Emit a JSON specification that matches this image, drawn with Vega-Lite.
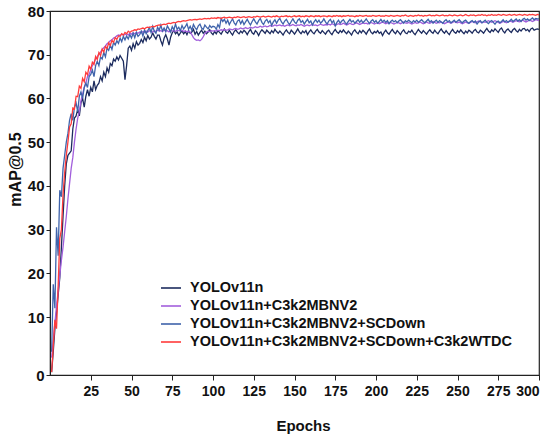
{
  "$schema": "https://vega.github.io/schema/vega-lite/v6.json",
  "width": 489,
  "height": 364,
  "autosize": "none",
  "padding": {"left": 50, "top": 11, "right": 11, "bottom": 63},
  "background": "white",
  "config": {
    "font": "Liberation Sans",
    "view": {"stroke": "#222222", "strokeWidth": 1.2}
  },
  "data": {
    "values": [
      {"epoch":1,"a":0.5,"b":3,"c":4,"d":0.5},
      {"epoch":2,"a":4,"b":6,"c":17.5,"d":5},
      {"epoch":3,"a":8,"b":9,"c":12,"d":9.5},
      {"epoch":4,"a":11,"b":12.5,"c":30.5,"d":8},
      {"epoch":5,"a":15,"b":16,"c":24,"d":17},
      {"epoch":6,"a":19,"b":19.5,"c":39,"d":28},
      {"epoch":7,"a":26,"b":23,"c":37.5,"d":30},
      {"epoch":8,"a":33,"b":26,"c":44,"d":38},
      {"epoch":9,"a":40,"b":29.5,"c":47,"d":43},
      {"epoch":10,"a":45,"b":33,"c":50,"d":47},
      {"epoch":11,"a":47,"b":37,"c":52,"d":50},
      {"epoch":12,"a":47.5,"b":40.5,"c":55,"d":53.5},
      {"epoch":13,"a":48,"b":44,"c":56.5,"d":54.2},
      {"epoch":14,"a":53,"b":46.5,"c":55,"d":57.8},
      {"epoch":15,"a":55.5,"b":50,"c":58,"d":57.6},
      {"epoch":16,"a":56,"b":53,"c":59,"d":60.5},
      {"epoch":17,"a":57.5,"b":55.5,"c":57,"d":60.4},
      {"epoch":18,"a":56,"b":57,"c":60.5,"d":62.8},
      {"epoch":19,"a":59,"b":59.5,"c":61.5,"d":62.3},
      {"epoch":20,"a":60,"b":61,"c":60,"d":64.6},
      {"epoch":21,"a":58,"b":62.5,"c":62.5,"d":63.8},
      {"epoch":22,"a":60.5,"b":63.5,"c":63.5,"d":66},
      {"epoch":23,"a":62,"b":65,"c":62.5,"d":65.4},
      {"epoch":24,"a":60.5,"b":65.5,"c":65,"d":67.4},
      {"epoch":25,"a":62.5,"b":66.5,"c":65.5,"d":66.7},
      {"epoch":26,"a":61.5,"b":67.5,"c":66.5,"d":68.3},
      {"epoch":27,"a":64,"b":68.2,"c":65,"d":67.8},
      {"epoch":28,"a":62,"b":69,"c":67.5,"d":69.6},
      {"epoch":29,"a":63,"b":69.5,"c":68.5,"d":68.9},
      {"epoch":30,"a":63.5,"b":70.2,"c":67.5,"d":70.5},
      {"epoch":31,"a":65,"b":70.6,"c":69.5,"d":69.8},
      {"epoch":32,"a":64,"b":71.2,"c":69,"d":71.3},
      {"epoch":33,"a":66,"b":71.6,"c":70.5,"d":70.6},
      {"epoch":34,"a":65,"b":72,"c":69.5,"d":71.9},
      {"epoch":35,"a":67,"b":72.5,"c":71.5,"d":71.4},
      {"epoch":36,"a":66,"b":72.8,"c":71,"d":72.7},
      {"epoch":37,"a":68,"b":73.2,"c":72.2,"d":72.1},
      {"epoch":38,"a":67.5,"b":73.4,"c":71.2,"d":73.3},
      {"epoch":39,"a":69,"b":73.8,"c":72.8,"d":72.8},
      {"epoch":40,"a":68.5,"b":74,"c":72.2,"d":73.9},
      {"epoch":41,"a":69.5,"b":74.3,"c":73.2,"d":73.5},
      {"epoch":42,"a":68.8,"b":74.5,"c":72.6,"d":74.3},
      {"epoch":43,"a":69.8,"b":74.4,"c":73.8,"d":74.2},
      {"epoch":44,"a":69.2,"b":74.7,"c":73,"d":74.8},
      {"epoch":45,"a":68.5,"b":74.5,"c":74.2,"d":74.5},
      {"epoch":46,"a":64.3,"b":74.6,"c":73.4,"d":75.1},
      {"epoch":47,"a":67.5,"b":74.8,"c":74.3,"d":74.8},
      {"epoch":48,"a":71.5,"b":74.5,"c":73.6,"d":75.4},
      {"epoch":49,"a":72,"b":74.9,"c":74.6,"d":75.1},
      {"epoch":50,"a":71,"b":74.7,"c":73.8,"d":75.4},
      {"epoch":51,"a":72.5,"b":75,"c":74.9,"d":75.5},
      {"epoch":52,"a":71.5,"b":74.8,"c":73.9,"d":75.7},
      {"epoch":53,"a":73,"b":75.1,"c":75.1,"d":75.6},
      {"epoch":54,"a":72.2,"b":74.9,"c":74.2,"d":75.9},
      {"epoch":55,"a":72.6,"b":75.2,"c":74.6,"d":75.8},
      {"epoch":56,"a":73.5,"b":75,"c":75.4,"d":76},
      {"epoch":57,"a":72.8,"b":75.3,"c":74.3,"d":76.1},
      {"epoch":58,"a":74,"b":75.1,"c":75.7,"d":75.9},
      {"epoch":59,"a":73.2,"b":75.4,"c":74.8,"d":76.2},
      {"epoch":60,"a":74.4,"b":75.2,"c":75.5,"d":76.3},
      {"epoch":61,"a":73.6,"b":75.5,"c":76.2,"d":76.2},
      {"epoch":62,"a":74,"b":75.3,"c":75.1,"d":76.4},
      {"epoch":63,"a":75,"b":75.2,"c":76.5,"d":76.5},
      {"epoch":64,"a":74.2,"b":75.5,"c":75.4,"d":76.4},
      {"epoch":65,"a":73.6,"b":75.3,"c":74.9,"d":76.6},
      {"epoch":66,"a":74.5,"b":75.6,"c":76.3,"d":76.7},
      {"epoch":67,"a":74.5,"b":75.4,"c":75.6,"d":76.8},
      {"epoch":68,"a":73.2,"b":75.5,"c":76.8,"d":76.7},
      {"epoch":69,"a":72.2,"b":75.3,"c":75.4,"d":76.9},
      {"epoch":70,"a":73.8,"b":75.6,"c":76.1,"d":77},
      {"epoch":71,"a":74.6,"b":75.4,"c":75.3,"d":76.9},
      {"epoch":72,"a":73.6,"b":75.5,"c":76.6,"d":77.1},
      {"epoch":73,"a":72.2,"b":75.2,"c":75.9,"d":77.2},
      {"epoch":74,"a":74,"b":75.6,"c":75.2,"d":77.1},
      {"epoch":75,"a":75,"b":75.4,"c":76.4,"d":77.3},
      {"epoch":76,"a":75.6,"b":75.5,"c":75.7,"d":77.4},
      {"epoch":77,"a":74.8,"b":75.3,"c":77,"d":77.3},
      {"epoch":78,"a":75.2,"b":75.6,"c":75.8,"d":77.5},
      {"epoch":79,"a":74.4,"b":75.5,"c":76.3,"d":77.6},
      {"epoch":80,"a":75,"b":75.4,"c":75.5,"d":77.5},
      {"epoch":81,"a":75.4,"b":75.6,"c":76.7,"d":77.7},
      {"epoch":82,"a":74.8,"b":75.3,"c":75.9,"d":77.8},
      {"epoch":83,"a":75.3,"b":75.5,"c":76.4,"d":77.7},
      {"epoch":84,"a":74.6,"b":75.2,"c":77.1,"d":77.8},
      {"epoch":85,"a":75.5,"b":75.4,"c":75.8,"d":77.9},
      {"epoch":86,"a":74.9,"b":75.2,"c":76.5,"d":78},
      {"epoch":87,"a":75.2,"b":74.6,"c":75.6,"d":77.9},
      {"epoch":88,"a":75.8,"b":73.9,"c":76.9,"d":78},
      {"epoch":89,"a":74.7,"b":73.5,"c":76.2,"d":78.1},
      {"epoch":90,"a":75.3,"b":73.3,"c":75.7,"d":78},
      {"epoch":91,"a":74.5,"b":73.4,"c":76.6,"d":78.1},
      {"epoch":92,"a":75.1,"b":73.2,"c":77,"d":78.2},
      {"epoch":93,"a":75.6,"b":73.5,"c":76.1,"d":78.1},
      {"epoch":94,"a":74.9,"b":74.1,"c":75.8,"d":78.2},
      {"epoch":95,"a":75.4,"b":74.8,"c":76.8,"d":78.3},
      {"epoch":96,"a":74.8,"b":75.2,"c":76.3,"d":78.2},
      {"epoch":97,"a":75.2,"b":75.4,"c":75.9,"d":78.3},
      {"epoch":98,"a":75.7,"b":75.3,"c":76.7,"d":78.2},
      {"epoch":99,"a":75,"b":75.5,"c":76.2,"d":78.4},
      {"epoch":100,"a":74.6,"b":75.4,"c":76.5,"d":78.3},
      {"epoch":101,"a":75.3,"b":75.5,"c":76.4,"d":78.4},
      {"epoch":102,"a":74.8,"b":75.4,"c":75.8,"d":78.3},
      {"epoch":103,"a":75.5,"b":75.6,"c":76.9,"d":78.5},
      {"epoch":104,"a":75.1,"b":75.5,"c":76.2,"d":78.4},
      {"epoch":105,"a":74.7,"b":75.7,"c":78.3,"d":78.3},
      {"epoch":106,"a":75.4,"b":75.6,"c":77.6,"d":78.5},
      {"epoch":107,"a":75.9,"b":75.8,"c":78.1,"d":78.6},
      {"epoch":108,"a":75.2,"b":75.6,"c":77.2,"d":78.4},
      {"epoch":109,"a":74.9,"b":75.7,"c":77.9,"d":78.5},
      {"epoch":110,"a":75.6,"b":75.9,"c":76.9,"d":78.6},
      {"epoch":111,"a":75,"b":75.8,"c":77.6,"d":78.5},
      {"epoch":112,"a":74.5,"b":75.7,"c":78.2,"d":78.4},
      {"epoch":113,"a":75.3,"b":75.9,"c":77.3,"d":78.6},
      {"epoch":114,"a":75.7,"b":76,"c":76.8,"d":78.5},
      {"epoch":115,"a":75.1,"b":75.8,"c":77.7,"d":78.7},
      {"epoch":116,"a":74.8,"b":75.9,"c":78,"d":78.6},
      {"epoch":117,"a":75.4,"b":76.1,"c":77.1,"d":78.5},
      {"epoch":118,"a":75,"b":75.9,"c":77.8,"d":78.6},
      {"epoch":119,"a":75.6,"b":76,"c":76.9,"d":78.7},
      {"epoch":120,"a":75.2,"b":76.2,"c":77.5,"d":78.5},
      {"epoch":121,"a":74.6,"b":76,"c":78.1,"d":78.6},
      {"epoch":122,"a":75.3,"b":76.1,"c":77.4,"d":78.7},
      {"epoch":123,"a":75.8,"b":76.3,"c":76.8,"d":78.6},
      {"epoch":124,"a":75,"b":76.1,"c":77.6,"d":78.5},
      {"epoch":125,"a":74.7,"b":76.2,"c":78.2,"d":78.7},
      {"epoch":126,"a":75.5,"b":76.4,"c":77.5,"d":78.6},
      {"epoch":127,"a":75.1,"b":76.2,"c":77,"d":78.8},
      {"epoch":128,"a":74.4,"b":76.3,"c":77.8,"d":78.7},
      {"epoch":129,"a":75.2,"b":76.5,"c":78.3,"d":78.6},
      {"epoch":130,"a":75.7,"b":76.3,"c":77.4,"d":78.7},
      {"epoch":131,"a":75.3,"b":76.4,"c":76.9,"d":78.8},
      {"epoch":132,"a":74.9,"b":76.6,"c":77.7,"d":78.6},
      {"epoch":133,"a":75.6,"b":76.4,"c":78.1,"d":78.7},
      {"epoch":134,"a":75.2,"b":76.5,"c":77.3,"d":78.8},
      {"epoch":135,"a":74.8,"b":76.7,"c":77.8,"d":78.7},
      {"epoch":136,"a":75.5,"b":76.5,"c":76.7,"d":78.6},
      {"epoch":137,"a":75,"b":76.6,"c":77.5,"d":78.8},
      {"epoch":138,"a":75.8,"b":76.8,"c":78,"d":78.7},
      {"epoch":139,"a":75.3,"b":76.6,"c":77.2,"d":78.9},
      {"epoch":140,"a":74.9,"b":76.7,"c":77.9,"d":78.7},
      {"epoch":141,"a":75.4,"b":76.8,"c":78.3,"d":78.6},
      {"epoch":142,"a":75,"b":76.6,"c":77.5,"d":78.8},
      {"epoch":143,"a":74.5,"b":76.7,"c":77,"d":78.7},
      {"epoch":144,"a":75.2,"b":76.5,"c":77.7,"d":78.8},
      {"epoch":145,"a":75.7,"b":76.7,"c":78.1,"d":78.9},
      {"epoch":146,"a":75.1,"b":76.8,"c":77.4,"d":78.7},
      {"epoch":147,"a":74.8,"b":76.6,"c":76.9,"d":78.8},
      {"epoch":148,"a":75.6,"b":76.7,"c":77.6,"d":78.6},
      {"epoch":149,"a":75.2,"b":76.9,"c":78.2,"d":78.8},
      {"epoch":150,"a":74.7,"b":76.7,"c":77.5,"d":78.9},
      {"epoch":151,"a":75.3,"b":76.6,"c":77.1,"d":78.7},
      {"epoch":152,"a":75.9,"b":76.8,"c":77.9,"d":78.8},
      {"epoch":153,"a":75.2,"b":76.7,"c":78.2,"d":78.9},
      {"epoch":154,"a":74.8,"b":76.9,"c":77.4,"d":78.7},
      {"epoch":155,"a":75.4,"b":76.7,"c":77.8,"d":78.8},
      {"epoch":156,"a":75,"b":76.5,"c":77,"d":78.7},
      {"epoch":157,"a":75.5,"b":76.7,"c":77.6,"d":78.9},
      {"epoch":158,"a":74.6,"b":76.8,"c":78.1,"d":78.8},
      {"epoch":159,"a":75.2,"b":76.6,"c":77.3,"d":78.7},
      {"epoch":160,"a":75.7,"b":76.8,"c":77.7,"d":78.9},
      {"epoch":161,"a":75.1,"b":76.9,"c":76.8,"d":78.8},
      {"epoch":162,"a":74.8,"b":76.7,"c":77.5,"d":78.7},
      {"epoch":163,"a":75.4,"b":76.8,"c":78,"d":78.9},
      {"epoch":164,"a":75.8,"b":76.6,"c":77.4,"d":78.8},
      {"epoch":165,"a":75.2,"b":76.8,"c":77.9,"d":78.9},
      {"epoch":166,"a":74.9,"b":77,"c":77.2,"d":78.7},
      {"epoch":167,"a":75.5,"b":76.8,"c":77.6,"d":78.8},
      {"epoch":168,"a":75.1,"b":76.7,"c":78.2,"d":78.9},
      {"epoch":169,"a":74.7,"b":76.9,"c":77.5,"d":78.8},
      {"epoch":170,"a":75.3,"b":76.8,"c":77,"d":78.7},
      {"epoch":171,"a":75.6,"b":77,"c":77.7,"d":78.9},
      {"epoch":172,"a":75,"b":76.8,"c":78.1,"d":78.8},
      {"epoch":173,"a":74.6,"b":77.1,"c":77.3,"d":78.7},
      {"epoch":174,"a":75.3,"b":76.9,"c":77.8,"d":78.9},
      {"epoch":175,"a":75.8,"b":76.7,"c":76.6,"d":78.8},
      {"epoch":176,"a":75.2,"b":76.9,"c":77.4,"d":79},
      {"epoch":177,"a":74.9,"b":77.1,"c":77.9,"d":78.8},
      {"epoch":178,"a":75.5,"b":76.9,"c":77.2,"d":78.9},
      {"epoch":179,"a":75.1,"b":77,"c":77.7,"d":78.7},
      {"epoch":180,"a":75.7,"b":77.2,"c":78,"d":78.9},
      {"epoch":181,"a":75.2,"b":77,"c":77.4,"d":78.8},
      {"epoch":182,"a":74.8,"b":76.8,"c":77,"d":78.9},
      {"epoch":183,"a":75.4,"b":77,"c":77.6,"d":79},
      {"epoch":184,"a":75,"b":77.2,"c":78.1,"d":78.8},
      {"epoch":185,"a":74.5,"b":77,"c":77.5,"d":78.9},
      {"epoch":186,"a":75.3,"b":76.9,"c":77.8,"d":78.8},
      {"epoch":187,"a":75.7,"b":77.1,"c":77.2,"d":78.7},
      {"epoch":188,"a":75.1,"b":77.3,"c":77.6,"d":78.9},
      {"epoch":189,"a":74.8,"b":77.1,"c":78,"d":78.8},
      {"epoch":190,"a":75.5,"b":76.9,"c":77.4,"d":79},
      {"epoch":191,"a":75,"b":77.1,"c":77.9,"d":78.9},
      {"epoch":192,"a":75.6,"b":77.3,"c":77.3,"d":78.8},
      {"epoch":193,"a":75.2,"b":77.1,"c":77.7,"d":78.9},
      {"epoch":194,"a":74.7,"b":77.2,"c":78.2,"d":79},
      {"epoch":195,"a":75.4,"b":77,"c":77.6,"d":78.8},
      {"epoch":196,"a":75.9,"b":77.2,"c":77.1,"d":78.9},
      {"epoch":197,"a":75.1,"b":77.4,"c":77.7,"d":78.8},
      {"epoch":198,"a":74.8,"b":77.2,"c":78,"d":79},
      {"epoch":199,"a":75.3,"b":77,"c":77.4,"d":78.9},
      {"epoch":200,"a":75,"b":77.2,"c":77.8,"d":78.8},
      {"epoch":201,"a":75.5,"b":77.3,"c":77.2,"d":78.9},
      {"epoch":202,"a":74.9,"b":77.1,"c":77.6,"d":79},
      {"epoch":203,"a":75.2,"b":77.3,"c":78.1,"d":78.8},
      {"epoch":204,"a":74.4,"b":77.5,"c":77.5,"d":78.9},
      {"epoch":205,"a":75.1,"b":77.3,"c":77.9,"d":78.8},
      {"epoch":206,"a":75.6,"b":77.1,"c":77.4,"d":79},
      {"epoch":207,"a":75,"b":77.3,"c":77.8,"d":78.9},
      {"epoch":208,"a":74.7,"b":77.2,"c":77.1,"d":78.8},
      {"epoch":209,"a":75.3,"b":77.4,"c":77.6,"d":79},
      {"epoch":210,"a":75.8,"b":77.2,"c":77.9,"d":78.9},
      {"epoch":211,"a":75.2,"b":77,"c":77.5,"d":78.8},
      {"epoch":212,"a":74.8,"b":77.2,"c":77.8,"d":78.9},
      {"epoch":213,"a":75.5,"b":77.4,"c":77.3,"d":79},
      {"epoch":214,"a":75.1,"b":77.3,"c":77.7,"d":78.9},
      {"epoch":215,"a":74.6,"b":77.1,"c":78,"d":78.8},
      {"epoch":216,"a":75.3,"b":77.3,"c":77.6,"d":79},
      {"epoch":217,"a":75.7,"b":77.5,"c":77.2,"d":78.9},
      {"epoch":218,"a":75,"b":77.3,"c":77.8,"d":79.1},
      {"epoch":219,"a":74.8,"b":77.2,"c":77.5,"d":78.9},
      {"epoch":220,"a":75.4,"b":77.4,"c":77.9,"d":78.8},
      {"epoch":221,"a":75.1,"b":77.2,"c":77.6,"d":79},
      {"epoch":222,"a":75.6,"b":77,"c":77.3,"d":78.9},
      {"epoch":223,"a":75,"b":77.2,"c":77.8,"d":78.8},
      {"epoch":224,"a":74.6,"b":77.4,"c":77.5,"d":79},
      {"epoch":225,"a":75.2,"b":77.2,"c":77.9,"d":78.9},
      {"epoch":226,"a":75.8,"b":77.3,"c":77.4,"d":79.1},
      {"epoch":227,"a":75.3,"b":77.5,"c":77.7,"d":78.9},
      {"epoch":228,"a":74.9,"b":77.3,"c":78,"d":79},
      {"epoch":229,"a":75.5,"b":77.1,"c":77.6,"d":78.8},
      {"epoch":230,"a":75.1,"b":77.3,"c":77.3,"d":79},
      {"epoch":231,"a":74.7,"b":77.5,"c":77.7,"d":78.9},
      {"epoch":232,"a":75.3,"b":77.3,"c":78.1,"d":79},
      {"epoch":233,"a":75.7,"b":77.2,"c":77.5,"d":79.1},
      {"epoch":234,"a":75.2,"b":77.4,"c":77.8,"d":78.9},
      {"epoch":235,"a":74.9,"b":77.6,"c":77.2,"d":79},
      {"epoch":236,"a":75.6,"b":77.4,"c":77.6,"d":78.9},
      {"epoch":237,"a":75.1,"b":77.2,"c":77.9,"d":79.1},
      {"epoch":238,"a":74.8,"b":77.4,"c":77.4,"d":79},
      {"epoch":239,"a":75.4,"b":77.3,"c":77.8,"d":78.9},
      {"epoch":240,"a":75.9,"b":77.5,"c":77.5,"d":79},
      {"epoch":241,"a":75.3,"b":77.3,"c":77.2,"d":79.1},
      {"epoch":242,"a":74.9,"b":77.1,"c":77.7,"d":78.9},
      {"epoch":243,"a":75.5,"b":77.3,"c":78,"d":79},
      {"epoch":244,"a":75,"b":77.5,"c":77.5,"d":78.9},
      {"epoch":245,"a":74.6,"b":77.4,"c":77.8,"d":79.1},
      {"epoch":246,"a":75.3,"b":77.2,"c":77.3,"d":79},
      {"epoch":247,"a":75.8,"b":77.4,"c":77.6,"d":78.9},
      {"epoch":248,"a":75.2,"b":77.6,"c":77.9,"d":79.1},
      {"epoch":249,"a":74.9,"b":77.4,"c":77.4,"d":79},
      {"epoch":250,"a":75.5,"b":77.3,"c":77.7,"d":78.9},
      {"epoch":251,"a":75.1,"b":77.5,"c":78,"d":79},
      {"epoch":252,"a":75.7,"b":77.3,"c":77.6,"d":79.1},
      {"epoch":253,"a":75.2,"b":77.1,"c":77.3,"d":78.9},
      {"epoch":254,"a":74.8,"b":77.3,"c":77.7,"d":79},
      {"epoch":255,"a":75.4,"b":77.5,"c":77.9,"d":79.2},
      {"epoch":256,"a":75,"b":77.3,"c":77.5,"d":79},
      {"epoch":257,"a":75.6,"b":77.2,"c":77.2,"d":78.9},
      {"epoch":258,"a":75.3,"b":77.4,"c":77.6,"d":79.1},
      {"epoch":259,"a":74.9,"b":77.6,"c":77.8,"d":79},
      {"epoch":260,"a":75.5,"b":77.4,"c":77.4,"d":79.1},
      {"epoch":261,"a":75.8,"b":77.3,"c":77.7,"d":78.9},
      {"epoch":262,"a":75.2,"b":77.5,"c":77,"d":79},
      {"epoch":263,"a":75,"b":77.7,"c":77.5,"d":79.1},
      {"epoch":264,"a":75.6,"b":77.5,"c":77.8,"d":79},
      {"epoch":265,"a":75.3,"b":77.3,"c":77.3,"d":79.2},
      {"epoch":266,"a":74.9,"b":77.5,"c":77.6,"d":79},
      {"epoch":267,"a":75.5,"b":77.4,"c":77.9,"d":79.1},
      {"epoch":268,"a":76,"b":77.6,"c":77.4,"d":78.9},
      {"epoch":269,"a":75.4,"b":77.8,"c":77.1,"d":79.1},
      {"epoch":270,"a":75.1,"b":77.6,"c":77.6,"d":79},
      {"epoch":271,"a":75.7,"b":77.4,"c":77.8,"d":79.2},
      {"epoch":272,"a":75.3,"b":77.6,"c":77.4,"d":79},
      {"epoch":273,"a":75.9,"b":77.8,"c":77,"d":79.1},
      {"epoch":274,"a":75.5,"b":77.6,"c":77.5,"d":79},
      {"epoch":275,"a":75.1,"b":77.4,"c":77.7,"d":79.2},
      {"epoch":276,"a":75.8,"b":77.2,"c":77.3,"d":79.1},
      {"epoch":277,"a":76.1,"b":77.4,"c":77.6,"d":79},
      {"epoch":278,"a":75.4,"b":77.6,"c":78,"d":79.2},
      {"epoch":279,"a":75,"b":77.5,"c":77.5,"d":79.1},
      {"epoch":280,"a":75.6,"b":77.3,"c":77.8,"d":79},
      {"epoch":281,"a":75.9,"b":77.5,"c":77.4,"d":79.1},
      {"epoch":282,"a":75.4,"b":77.7,"c":77.7,"d":79.2},
      {"epoch":283,"a":75.1,"b":77.6,"c":78.1,"d":79},
      {"epoch":284,"a":75.7,"b":77.4,"c":77.6,"d":79.1},
      {"epoch":285,"a":76,"b":77.6,"c":77.9,"d":79.2},
      {"epoch":286,"a":75.5,"b":77.8,"c":78.2,"d":79},
      {"epoch":287,"a":75.2,"b":77.6,"c":77.7,"d":79.1},
      {"epoch":288,"a":75.8,"b":77.5,"c":78,"d":79.2},
      {"epoch":289,"a":75.4,"b":77.7,"c":77.6,"d":79.1},
      {"epoch":290,"a":75.9,"b":77.9,"c":78.1,"d":79},
      {"epoch":291,"a":76,"b":77.7,"c":78.3,"d":79.2},
      {"epoch":292,"a":75.5,"b":77.5,"c":77.9,"d":79.1},
      {"epoch":293,"a":75.8,"b":77.7,"c":78.2,"d":79},
      {"epoch":294,"a":75.3,"b":77.9,"c":77.8,"d":79.2},
      {"epoch":295,"a":75.9,"b":77.8,"c":78.1,"d":79.1},
      {"epoch":296,"a":76.1,"b":77.6,"c":78.4,"d":79.2},
      {"epoch":297,"a":75.6,"b":77.8,"c":78,"d":79.1},
      {"epoch":298,"a":75.8,"b":78,"c":78.3,"d":79},
      {"epoch":299,"a":75.9,"b":77.9,"c":78.2,"d":79.2},
      {"epoch":300,"a":75.8,"b":77.8,"c":78.2,"d":79.1}
    ]
  },
  "transform": [
    {"fold": ["a", "b", "c", "d"], "as": ["model", "mAP"]}
  ],
  "mark": {"type": "line", "strokeWidth": 1.3, "clip": true},
  "encoding": {
    "x": {
      "field": "epoch",
      "type": "quantitative",
      "scale": {"domain": [0, 300], "nice": false},
      "axis": {
        "values": [25, 50, 75, 100, 125, 150, 175, 200, 225, 250, 275, 300],
        "grid": false,
        "domainColor": "#222222",
        "tickColor": "#222222",
        "tickSize": 5,
        "labelPadding": 4,
        "labelFontSize": 14,
        "labelFontWeight": "bold",
        "labelColor": "#111111",
        "title": "Epochs",
        "titleFontSize": 15,
        "titleFontWeight": "bold",
        "titleColor": "#111111",
        "titleX": 253,
        "titleY": 50,
        "titleBaseline": "middle",
        "titleAlign": "center"
      }
    },
    "y": {
      "field": "mAP",
      "type": "quantitative",
      "scale": {"domain": [0, 10, 80], "range": [364, 306, 0], "nice": false, "zero": false},
      "axis": {
        "values": [0, 10, 20, 30, 40, 50, 60, 70, 80],
        "grid": false,
        "domainColor": "#222222",
        "tickColor": "#222222",
        "tickSize": 4,
        "labelPadding": 2,
        "labelFontSize": 15,
        "labelFontWeight": "bold",
        "labelColor": "#111111",
        "title": "mAP@0.5",
        "titleFontSize": 16,
        "titleFontWeight": "bold",
        "titleColor": "#111111",
        "titleX": -35,
        "titleY": 158,
        "titleBaseline": "middle",
        "titleAlign": "center"
      }
    },
    "color": {
      "field": "model",
      "type": "nominal",
      "scale": {
        "domain": ["a", "b", "c", "d"],
        "range": ["#1c2b5e", "#a25fdc", "#3f63ab", "#ff3b3b"]
      },
      "legend": {
        "orient": "none",
        "legendX": 110,
        "legendY": 266,
        "title": null,
        "symbolType": "stroke",
        "symbolStrokeWidth": 1.6,
        "symbolSize": 400,
        "labelFontSize": 14.5,
        "labelFontWeight": "bold",
        "labelColor": "#111111",
        "labelLimit": 0,
        "labelOffset": 8,
        "rowPadding": -1,
        "padding": 0,
        "labelExpr": "{'a': 'YOLOv11n', 'b': 'YOLOv11n+C3k2MBNV2', 'c': 'YOLOv11n+C3k2MBNV2+SCDown', 'd': 'YOLOv11n+C3k2MBNV2+SCDown+C3k2WTDC'}[datum.label]"
      }
    }
  }
}
